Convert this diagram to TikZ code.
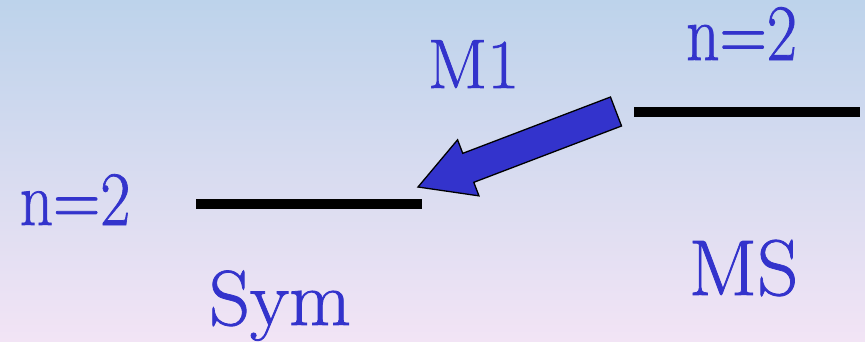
\documentclass[tikz,border=0pt]{standalone}
\usepackage{fontspec}
\usepackage{graphicx}
\newfontfamily\lmfam{Latin Modern Roman}[FakeBold=1]
\usetikzlibrary{calc}
\definecolor{bgtop}{RGB}{189,211,235}
\definecolor{bgbot}{RGB}{242,228,245}
\definecolor{txtblue}{RGB}{51,51,204}
\tikzset{
  lbl/.style={text=txtblue, inner sep=0pt, anchor=base},
  level/.style={line width=10pt, black},
  bigarrow/.style={fill=txtblue, draw=black, line width=1.3pt, line join=miter}
}
\begin{document}
\begin{tikzpicture}[x=1pt,y=1pt]
\useasboundingbox (0,0) rectangle (865,341);
\shade[top color=bgtop, bottom color=bgbot] (0,0) rectangle (865,341);
% levels
\coordinate (msL) at (634,229);
\coordinate (msR) at (860,229);
\coordinate (syL) at (196,137);
\coordinate (syR) at (422,137);
\draw[level] (msL) -- (msR);
\draw[level] (syL) -- (syR);
% labels
\node[lbl, font=\lmfam\fontsize{80}{82}\selectfont] (ntop) at (741.5,281) {\scalebox{0.82}[1]{n=2}};
\node[lbl, font=\lmfam\fontsize{70}{72}\selectfont] (m1) at (473.5,253) {M1};
\node[lbl, font=\lmfam\fontsize{77}{79}\selectfont] (nleft) at (75,116) {\scalebox{0.85}[1]{n=2}};
\node[lbl, font=\lmfam\fontsize{78}{80}\selectfont] (sym) at (280,16) {\scalebox{1.03}[1]{Sym}};
\node[lbl, font=\lmfam\fontsize{79}{81}\selectfont] (ms) at (743.5,46) {\scalebox{1.02}[1]{MS}};
% arrow
\coordinate (tail) at ($(msL)+(-18,0.5)$);
\coordinate (tip) at ($(syR)+(-4,17)$);
\coordinate (hb) at ($(tip)!53.8pt!(tail)$);
\draw[bigarrow]
  ($(tail)!15.5pt!90:(tip)$) --
  ($(hb)!15.5pt!-90:(tail)$) --
  ($(hb)!30pt!-90:(tail)$) --
  (tip) --
  ($(hb)!30pt!90:(tail)$) --
  ($(hb)!15.5pt!90:(tail)$) --
  ($(tail)!15.5pt!-90:(tip)$) -- cycle;
\end{tikzpicture}
\end{document}
